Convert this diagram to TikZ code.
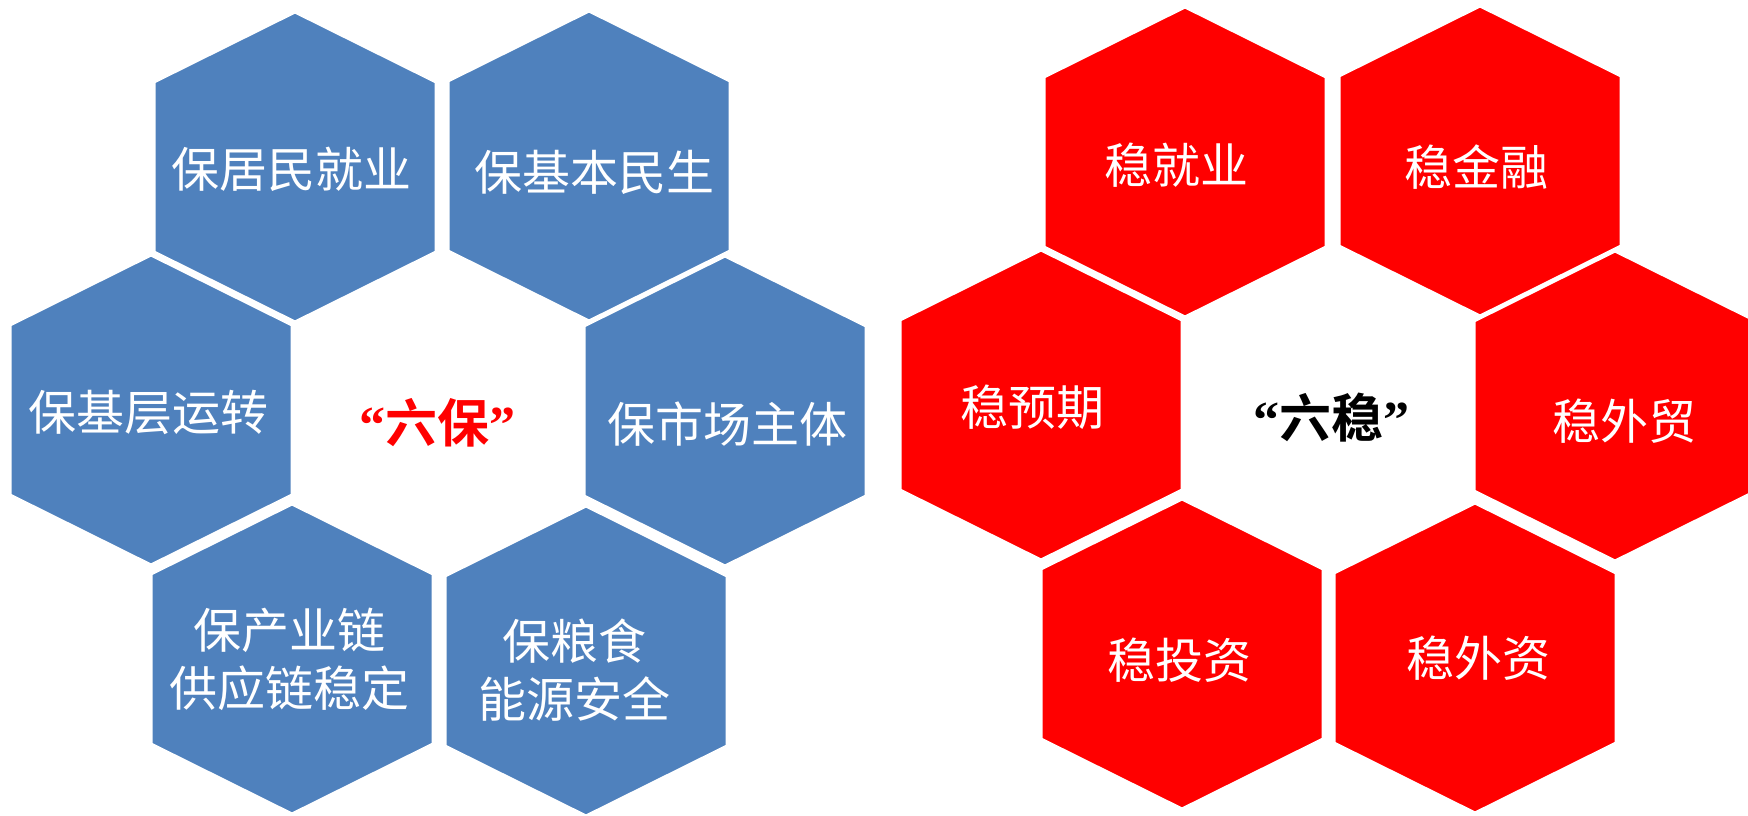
\documentclass[tikz,border=0pt]{standalone}
\usepackage{fontspec}
\newfontfamily\cjk[BoldFont={Noto Sans CJK SC Bold}]{Noto Sans CJK SC}
\newfontfamily\qf{Liberation Serif}
\definecolor{hexblue}{HTML}{4F81BD}
\definecolor{hexred}{HTML}{FF0000}
\tikzset{
  hexlabel/.style={text=white, font=\cjk\fontsize{48}{58}\selectfont, align=center, inner sep=0pt},
  hexborder/.style={draw=white, line width=3pt, line join=miter},
  centertitle/.style={font=\cjk\bfseries\fontsize{52}{60}\selectfont, inner sep=0pt}
}
\newcommand\hexcell[3]{%
  \path[fill=#3, hexborder] (#1,#2-155) -- (#1+141,#2-85) -- (#1+141,#2+85) -- (#1,#2+155) -- (#1-141,#2+85) -- (#1-141,#2-85) -- cycle;%
}
\begin{document}
\begin{tikzpicture}[x=1pt,y=-1pt]
\useasboundingbox[fill=white] (0,0) rectangle (1748,816);
% left group
\hexcell{295}{167}{hexblue}
\hexcell{589}{166}{hexblue}
\hexcell{151}{410}{hexblue}
\hexcell{725}{411}{hexblue}
\hexcell{292}{659}{hexblue}
\hexcell{586}{661}{hexblue}
\node[hexlabel] (b1) at (291,169) {保居民就业};
\node[hexlabel] (b2) at (594,172) {保基本民生};
\node[hexlabel] (b3) at (148,412) {保基层运转};
\node[hexlabel] (b4) at (727,424) {保市场主体};
\node[hexlabel] (b5) at (289,659) {保产业链\\供应链稳定};
\node[hexlabel] (b6) at (574,670) {保粮食\\能源安全};
\node[centertitle, text=hexred] (bt) at (437,423) {{\qf\bfseries “}六保{\qf\bfseries ”}};
% right group
\hexcell{1185}{162}{hexred}
\hexcell{1480}{161}{hexred}
\hexcell{1041}{405}{hexred}
\hexcell{1615}{406}{hexred}
\hexcell{1182}{654}{hexred}
\hexcell{1475}{658}{hexred}
\node[hexlabel] (r1) at (1176,165) {稳就业};
\node[hexlabel] (r2) at (1476,167) {稳金融};
\node[hexlabel] (r3) at (1032,407) {稳预期};
\node[hexlabel] (r4) at (1624,421) {稳外贸};
\node[hexlabel] (r5) at (1179,660) {稳投资};
\node[hexlabel] (r6) at (1478,658) {稳外资};
\node[centertitle, text=black] (rt) at (1331,418) {{\qf\bfseries “}六稳{\qf\bfseries ”}};
\end{tikzpicture}
\end{document}
